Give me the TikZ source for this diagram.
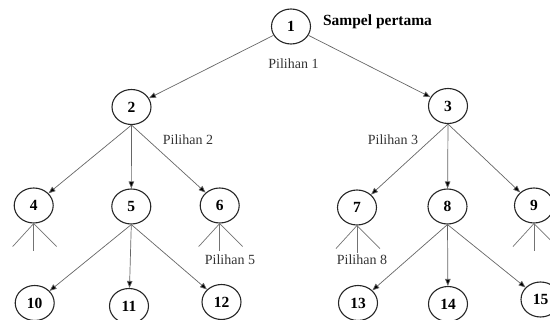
\documentclass[tikz,border=0pt]{standalone}
\usepackage{fontspec}
\setmainfont{Liberation Serif}
\usetikzlibrary{shapes.geometric,arrows.meta}
\begin{document}
\begin{tikzpicture}[x=1pt,y=-1pt,
  nd/.style={ellipse,draw=black!85,line width=1.1pt,minimum width=39pt,minimum height=35pt,inner sep=0pt,font=\fontsize{15.5}{17}\selectfont\bfseries},
  lbl/.style={inner sep=0pt,text=black!80,font=\fontsize{14}{16}\selectfont},
  edge/.style={draw=black!60,line width=0.7pt,-{Triangle[length=7pt,width=5.5pt,fill=black]}},
  stub/.style={draw=black!55,line width=0.7pt}]
\useasboundingbox (0,0) rectangle (550,320);
\clip (0,0) rectangle (550,320);
\node[nd] (n1) at (291,26.5) {1};
\node[nd] (n2) at (131.5,107) {2};
\node[nd] (n3) at (448,106) {3};
\node[nd] (n4) at (33.7,205.5) {4};
\node[nd] (n5) at (131.3,206.5) {5};
\node[nd] (n6) at (219.7,205.5) {6};
\node[nd] (n7) at (357,207.5) {7};
\node[nd] (n8) at (447.5,206.5) {8};
\node[nd] (n9) at (534,205.5) {9};
\node[nd] (n10) at (34.7,303) {10};
\node[nd] (n11) at (129,306) {11};
\node[nd] (n12) at (221.5,302) {12};
\node[nd] (n13) at (358,303) {13};
\node[nd] (n14) at (448,304) {14};
\node[nd] (n15) at (540.5,299.5) {15};
\node[inner sep=0pt,font=\fontsize{15.5}{17}\selectfont\bfseries] (t0) at (377.5,22) {Sampel pertama};
\node[lbl] (t1) at (293.5,64) {Pilihan 1};
\node[lbl] (t2) at (188,140) {Pilihan 2};
\node[lbl] (t3) at (393,140) {Pilihan 3};
\node[lbl] (t5) at (230,260) {Pilihan 5};
\node[lbl] (t8) at (362,260) {Pilihan 8};
\draw[edge] (n1) -- (n2);
\draw[edge] (n1) -- (n3);
\foreach \p/\c in {n2/n4,n2/n5,n2/n6,n3/n7,n3/n8,n3/n9,n5/n10,n5/n11,n5/n12,n8/n13,n8/n14,n8/n15}
  \draw[edge] (\p.south) -- (\c);
\foreach \n in {n4,n6,n7,n9}{
  \coordinate (\n l) at ([shift={(-21,23)}]\n.south);
  \coordinate (\n m) at ([shift={(0,27)}]\n.south);
  \coordinate (\n r) at ([shift={(23,23)}]\n.south);
  \draw[stub] (\n l) -- (\n.south) -- (\n r);
  \draw[stub] (\n.south) -- (\n m);
}
\end{tikzpicture}
\end{document}
